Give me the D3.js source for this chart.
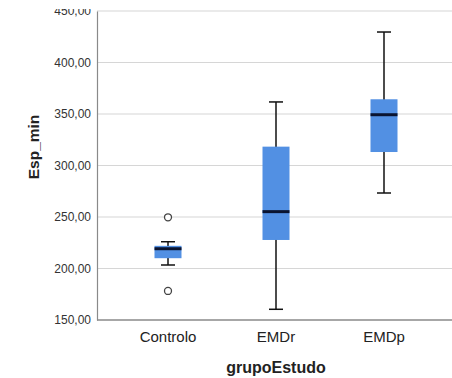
<!DOCTYPE html>
<html><head><meta charset="utf-8">
<script src="https://cdn.jsdelivr.net/npm/d3@7"></script>
<style>body{margin:0;background:#fff}svg{display:block}</style>
</head><body>
<svg id="c" width="452" height="378"></svg>
<script>
const categories = ["Controlo", "EMDr", "EMDp"];
const whiskerLow = [203.4, 160.4, 273.3];
const q1 = [210.0, 227.7, 313.1];
const median = [219.2, 255.2, 349.3];
const q3 = [222.0, 318.3, 364.3];
const whiskerHigh = [226.0, 361.7, 429.6];
const outliers = [[249.7, 178.2], [], []];
const yTicks = [150, 200, 250, 300, 350, 400, 450];

const svg = d3.select("#c");
const x = d3.scaleBand().domain(categories).range([114, 438]).paddingInner(0);
const y = d3.scaleLinear().domain([150, 450]).range([320, 11]);
const fmt = v => d3.format(".2f")(v).replace(".", ",");

// gridlines
svg.append("g").selectAll("line").data(yTicks.slice(1)).join("line")
  .attr("x1", 97).attr("x2", 452)
  .attr("y1", d => y(d)).attr("y2", d => y(d))
  .attr("stroke", "#d6d6d6").attr("stroke-width", 1.2);

// y axis
const ya = svg.append("g").attr("transform", "translate(97,0)")
  .call(d3.axisLeft(y).tickValues(yTicks).tickFormat(fmt).tickSize(0).tickPadding(6));
ya.select(".domain").attr("stroke", "#8a8a8a").attr("stroke-width", 1.2);
ya.selectAll("text").attr("font-family", "Liberation Sans, Arial, sans-serif")
  .attr("font-size", 12).attr("fill", "#333");

// x axis
const xa = svg.append("g").attr("transform", "translate(0,320)")
  .call(d3.axisBottom(x).tickSize(0).tickPadding(11));
xa.select(".domain").attr("d", "M97,0H452").attr("stroke", "#8a8a8a").attr("stroke-width", 1.5);
xa.selectAll("text").attr("font-family", "Liberation Sans, Arial, sans-serif")
  .attr("font-size", 15).attr("fill", "#222");

const bw = 27, cw = 14;
const g = svg.append("g").selectAll("g").data(categories).join("g")
  .attr("transform", d => `translate(${x(d) + x.bandwidth() / 2},0)`);
g.append("line").attr("x1", 0).attr("x2", 0)
  .attr("y1", (d, i) => y(whiskerLow[i])).attr("y2", (d, i) => y(whiskerHigh[i]))
  .attr("stroke", "#111").attr("stroke-width", 1.5);
g.append("line").attr("x1", -cw / 2).attr("x2", cw / 2)
  .attr("y1", (d, i) => y(whiskerHigh[i])).attr("y2", (d, i) => y(whiskerHigh[i]))
  .attr("stroke", "#111").attr("stroke-width", 1.5);
g.append("line").attr("x1", -cw / 2).attr("x2", cw / 2)
  .attr("y1", (d, i) => y(whiskerLow[i])).attr("y2", (d, i) => y(whiskerLow[i]))
  .attr("stroke", "#111").attr("stroke-width", 1.5);
g.append("rect").attr("x", -bw / 2).attr("width", bw)
  .attr("y", (d, i) => y(q3[i])).attr("height", (d, i) => y(q1[i]) - y(q3[i]))
  .attr("fill", "#5290e3");
g.append("line").attr("x1", -bw / 2).attr("x2", bw / 2)
  .attr("y1", (d, i) => y(median[i])).attr("y2", (d, i) => y(median[i]))
  .attr("stroke", "#0a1430").attr("stroke-width", 3);
g.each(function (d, i) {
  d3.select(this).selectAll("circle").data(outliers[i]).join("circle")
    .attr("cx", 0).attr("cy", v => y(v)).attr("r", 3.5)
    .attr("fill", "#fff").attr("stroke", "#444").attr("stroke-width", 1.3);
});

// top clip band like reference
svg.append("rect").attr("x", 0).attr("y", 0).attr("width", 97).attr("height", 9).attr("fill", "#fff");

svg.append("text").attr("transform", "translate(39,147) rotate(-90)")
  .attr("text-anchor", "middle").attr("font-family", "Liberation Sans, Arial, sans-serif")
  .attr("font-weight", "bold").attr("font-size", 15.5).attr("fill", "#222").text("Esp_min");
svg.append("text").attr("x", 276).attr("y", 373)
  .attr("text-anchor", "middle").attr("font-family", "Liberation Sans, Arial, sans-serif")
  .attr("font-weight", "bold").attr("font-size", 16).attr("fill", "#222").text("grupoEstudo");
</script>
</body></html>
